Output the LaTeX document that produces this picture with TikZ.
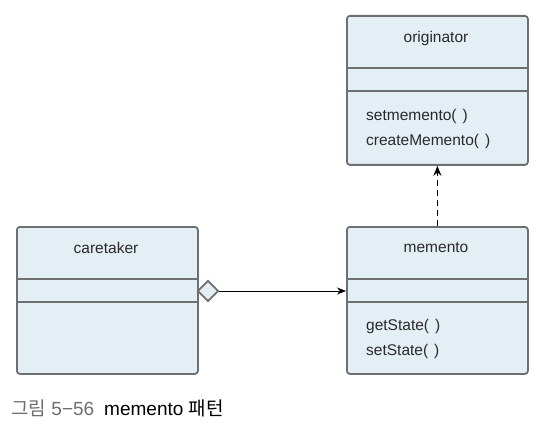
\documentclass[tikz,border=0pt]{standalone}
\usepackage{fontspec}
\setmainfont{Liberation Sans}
\newfontfamily\krfont{Noto Sans CJK KR}
\usepackage{tikz}
\usetikzlibrary{arrows.meta,positioning,shapes.geometric}

\definecolor{boxfill}{HTML}{E4EEF5}
\definecolor{boxline}{HTML}{6E6F71}
\definecolor{capgray}{HTML}{6D6E71}
\definecolor{txt}{HTML}{2A2A2A}

\newcommand{\noarg}{(\hspace{6pt})}

\begin{document}
\begin{tikzpicture}[
  x=1pt, y=-1pt,
  cls/.style={draw=boxline, line width=1.8pt, fill=boxfill, rounded corners=3pt, minimum width=181pt, inner sep=0pt, anchor=north west},
  divider/.style={draw=boxline, line width=2.2pt},
  title/.style={font=\fontsize{15.5}{17}\selectfont, text=txt, inner sep=0pt},
  meth/.style={font=\fontsize{15.5}{17}\selectfont, text=txt, inner sep=0pt, anchor=west},
  assoc/.style={-{Stealth[length=9pt, width=7pt]}, line width=0.8pt},
  dep/.style={-{Stealth[length=10pt, width=8pt]}, line width=1.2pt, dash pattern=on 6pt off 4pt},
  agg/.style={diamond, draw=boxline, line width=1.8pt, fill=boxfill, minimum width=21pt, minimum height=21pt, inner sep=0pt}
]
  \useasboundingbox (0,0) rectangle (541,425);

  % classes
  \node[cls, minimum height=149pt] (orig) at (346,15) {};
  \node[cls, minimum height=147pt] (memento) at (346,226) {};
  \node[cls, minimum height=147pt] (caretaker) at (16,226) {};

  \foreach \n in {orig,memento,caretaker}{
    \draw[divider] ([yshift=-53pt]\n.north west) -- ([yshift=-53pt]\n.north east);
    \draw[divider] ([yshift=-76pt]\n.north west) -- ([yshift=-76pt]\n.north east);
  }

  \node[title] (origname) at (436,38) {originator};
  \node[meth] (setm) at (366,116) {setmemento\noarg};
  \node[meth] (createm) at (366,141) {createMemento\noarg};

  \node[title] (memname) at (436,248) {memento};
  \node[meth] (gets) at (366,326) {getState\noarg};
  \node[meth] (sets) at (366,351) {setState\noarg};

  \node[title] (carename) at (106,248) {caretaker};

  % connectors
  \node[agg] (dia) at (208,291) {};
  \draw[assoc] (dia.east) -- (dia -| memento.west);
  \draw[dep] (memento.north) -- (orig.south);

  % caption
  \node[anchor=west, inner sep=0pt, font=\fontsize{19}{21}\selectfont] (cap) at (11,408)
    {\textcolor{capgray}{{\krfont 그림} 5−56}\hspace{10pt}memento {\krfont 패턴}};
\end{tikzpicture}
\end{document}
